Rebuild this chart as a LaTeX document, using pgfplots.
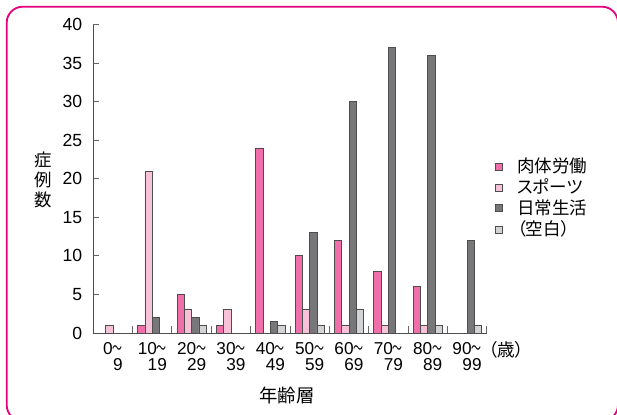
\documentclass[border=0pt]{standalone}
\usepackage{graphicx}
\usepackage{pgfplots}
\pgfplotsset{compat=1.18}
\usepackage{fontspec}
\setmainfont{Liberation Sans}
\newfontfamily\cjk[RawFeature=+palt]{Noto Sans CJK JP}
\newcommand\tl{\scalebox{0.58}[1]{\cjk ～}}
\definecolor{cA}{HTML}{F06EA9}
\definecolor{cB}{HTML}{F7C1D8}
\definecolor{cC}{HTML}{77777A}
\definecolor{cD}{HTML}{D2D3D5}
\definecolor{edge}{HTML}{4D4D4D}
\definecolor{framec}{HTML}{E6007E}
\begin{document}
\begin{tikzpicture}
\useasboundingbox (0,0) rectangle (308.5pt,207pt);
\draw[framec, line width=0.9pt, rounded corners=8pt] (3.35pt,-3.5pt) rectangle (309pt,203.65pt);
\begin{axis}[
  at={(46.65pt,40.5pt)}, anchor=south west,
  scale only axis, width=196.7pt, height=154.25pt,
  ybar=0pt, bar width=0.186,
  xmin=-0.5, xmax=9.5, ymin=0, ymax=40,
  axis lines*=left,
  axis line style={draw=black!70, line width=0.5pt, -},
  xtick={0,...,9},
  xticklabels={{0\tl\\9},{10\tl\\19},{20\tl\\29},{30\tl\\39},{40\tl\\49},{50\tl\\59},{60\tl\\69},{70\tl\\79},{80\tl\\89},{90\tl\\99}},
  xticklabel style={align=right, font=\fontsize{8.6}{8}\selectfont, yshift=-1pt},
  major x tick style={draw=none},
  minor xtick={0.5,1.5,...,9.5},
  minor tick length=3.5pt,
  ytick={0,5,...,40},
  major tick length=3pt,
  tick align=inside,
  tick style={black!60, line width=0.5pt},
  yticklabel style={font=\fontsize{8.8}{9}\selectfont, xshift=-2pt},
  /pgf/number format/assume math mode=true,
  legend style={at={(axis description cs:1.021,0.575)}, anchor=north west,
    draw=none, fill=none, inner sep=0pt, row sep=0pt, column sep=7pt,
    font=\cjk\fontsize{8.75}{10}\selectfont,
    nodes={inner xsep=0pt, inner ysep=0.8pt}},
  legend cell align=left,
  legend image code/.code={\draw[#1] (0pt,-1.75pt) rectangle (3.5pt,1.75pt);},
]
\addplot[fill=cA, draw=edge, line width=0.4pt] coordinates {(0,0) (1,1) (2,5) (3,1) (4,24) (5,10) (6,12) (7,8) (8,6) (9,0)};
\addplot[fill=cB, draw=edge, line width=0.4pt] coordinates {(0,1) (1,21) (2,3) (3,3) (4,0) (5,3) (6,1) (7,1) (8,1) (9,0)};
\addplot[fill=cC, draw=edge, line width=0.4pt] coordinates {(0,0) (1,2) (2,2) (3,0) (4,1.5) (5,13) (6,30) (7,37) (8,36) (9,12)};
\addplot[fill=cD, draw=edge, line width=0.4pt] coordinates {(0,0) (1,0) (2,1) (3,0) (4,1) (5,1) (6,3) (7,0) (8,1) (9,1)};
\legend{肉体労働,スポーツ,日常生活,（空白）}
\end{axis}
\node[font=\cjk\fontsize{8.7}{10}\selectfont, align=center] at (21.7pt,117pt) {症\\例\\数};
\node[font=\cjk\fontsize{9.2}{10}\selectfont] at (143.5pt,9.5pt) {年齢層};
\node[font=\cjk\fontsize{8.8}{10}\selectfont] at (253pt,32pt) {（歳）};
\end{tikzpicture}
\end{document}
